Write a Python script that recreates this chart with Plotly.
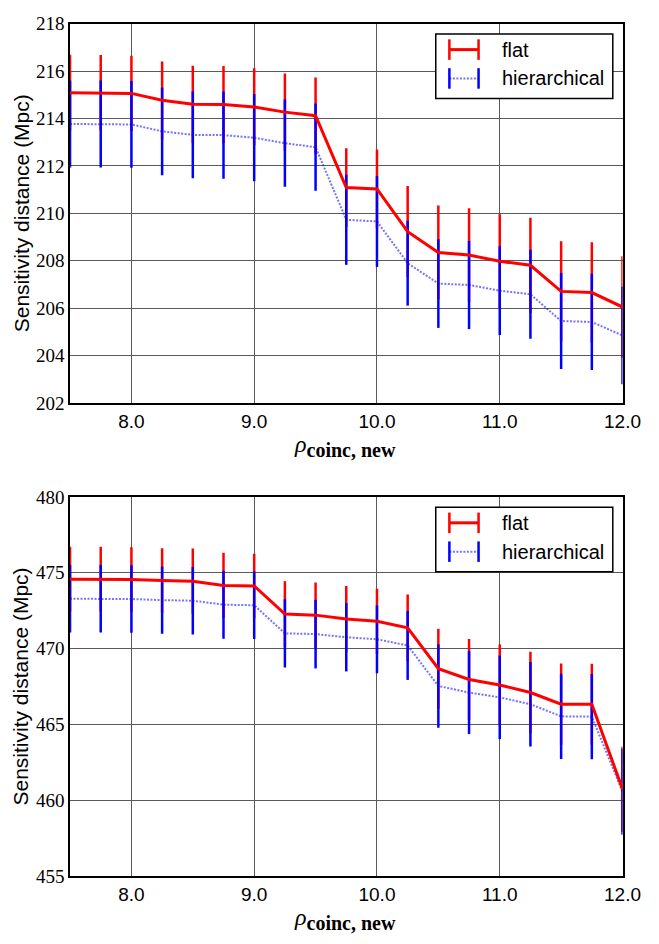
import plotly.graph_objects as go

W, H = 659, 944

# ---------------- data ----------------
rho = [7.5, 7.75, 8.0, 8.25, 8.5, 8.75, 9.0, 9.25, 9.5, 9.75,
       10.0, 10.25, 10.5, 10.75, 11.0, 11.25, 11.5, 11.75, 12.0]

top_flat = [215.09, 215.09, 215.06, 214.77, 214.60, 214.59, 214.49, 214.27, 214.12, 211.09,
            211.03, 209.23, 208.35, 208.24, 207.98, 207.81, 206.71, 206.66, 206.05]
top_flat_err = [1.60, 1.59, 1.59, 1.64, 1.63, 1.63, 1.63, 1.63, 1.61, 1.66,
                1.66, 1.92, 1.98, 1.98, 1.98, 2.01, 2.11, 2.12, 2.14]
top_hier = [213.77, 213.77, 213.75, 213.46, 213.31, 213.30, 213.19, 212.96, 212.79, 209.73,
            209.66, 207.90, 207.04, 206.98, 206.74, 206.59, 205.46, 205.42, 204.85]
top_hier_err = [1.83, 1.83, 1.83, 1.85, 1.83, 1.84, 1.84, 1.84, 1.84, 1.90,
                1.92, 1.79, 1.87, 1.86, 1.87, 1.88, 2.02, 2.03, 2.06]

bot_flat = [474.58, 474.58, 474.56, 474.49, 474.45, 474.17, 474.13, 472.28, 472.21, 471.95,
            471.80, 471.37, 468.68, 467.97, 467.61, 467.11, 466.34, 466.34, 460.74]
bot_flat_err = [2.13, 2.13, 2.13, 2.13, 2.15, 2.15, 2.13, 2.17, 2.15, 2.18,
                2.15, 2.20, 2.63, 2.67, 2.67, 2.69, 2.69, 2.67, 2.80]
bot_hier = [473.29, 473.29, 473.27, 473.20, 473.16, 472.90, 472.86, 471.01, 470.96, 470.75,
            470.62, 470.21, 467.54, 467.11, 466.79, 466.34, 465.54, 465.52, 460.57]
bot_hier_err = [2.22, 2.23, 2.22, 2.22, 2.23, 2.24, 2.23, 2.25, 2.26, 2.25,
                2.24, 2.27, 2.75, 2.74, 2.75, 2.78, 2.81, 2.81, 2.84]

x_ticks = [8.0, 9.0, 10.0, 11.0, 12.0]
top_yticks = [202, 204, 206, 208, 210, 212, 214, 216, 218]
bot_yticks = [455, 460, 465, 470, 475, 480]

RED = "#ff0000"
BLUE = "#0000ff"
BLUE_LINE = "rgba(0,0,255,0.55)"
SANS = "Liberation Sans"
SERIF = "Liberation Serif"

# pixel layout
PL, PR = 72, 640
panels = [(14, 402), (498, 886)]


def px(x):
    return x / W


def py(y):
    return 1 - y / H


fig = go.Figure()

datasets = [
    (top_flat, top_flat_err, top_hier, top_hier_err, "x", "y"),
    (bot_flat, bot_flat_err, bot_hier, bot_hier_err, "x2", "y2"),
]

for flat, ferr, hier, herr, xa, ya in datasets:
    # red error bars
    fig.add_trace(go.Scatter(
        x=rho, y=flat, mode="markers", xaxis=xa, yaxis=ya, showlegend=False,
        marker=dict(size=1, color="rgba(0,0,0,0)"),
        error_y=dict(type="data", array=ferr, visible=True, color=RED, thickness=2.5, width=0),
        hoverinfo="skip"))
    # blue error bars
    fig.add_trace(go.Scatter(
        x=rho, y=hier, mode="markers", xaxis=xa, yaxis=ya, showlegend=False,
        marker=dict(size=1, color="rgba(0,0,0,0)"),
        error_y=dict(type="data", array=herr, visible=True, color=BLUE, thickness=2.5, width=0),
        hoverinfo="skip"))
    # blue dotted line
    fig.add_trace(go.Scatter(
        x=rho, y=hier, mode="lines", xaxis=xa, yaxis=ya, name="hierarchical", showlegend=False,
        line=dict(color=BLUE_LINE, width=2, dash="2px,1.5px")))
    # red line
    fig.add_trace(go.Scatter(
        x=rho, y=flat, mode="lines", xaxis=xa, yaxis=ya, name="flat", showlegend=False,
        line=dict(color=RED, width=3)))

axis_common = dict(
    showgrid=True, gridcolor="#5a5a5a", gridwidth=1,
    showline=True, linecolor="black", linewidth=1.5, mirror=True,
    ticks="", zeroline=False,
)

xcommon = dict(axis_common, range=[7.5, 12.0], tickvals=x_ticks,
               ticktext=["%.1f" % v for v in x_ticks],
               tickfont=dict(family=SANS, size=19, color="black"),
               domain=[px(PL), px(PR)])

fig.update_layout(
    width=W, height=H,
    margin=dict(l=0, r=0, t=0, b=0),
    paper_bgcolor="white", plot_bgcolor="white",
    showlegend=False,
    xaxis=dict(xcommon, anchor="y"),
    yaxis=dict(axis_common, range=[202, 218], tickvals=top_yticks,
               ticktext=[str(v) for v in top_yticks],
               tickfont=dict(family=SERIF, size=19, color="black"),
               domain=[py(panels[0][1]), py(panels[0][0])], anchor="x"),
    xaxis2=dict(xcommon, anchor="y2"),
    yaxis2=dict(axis_common, range=[455, 480], tickvals=bot_yticks,
                ticktext=[str(v) for v in bot_yticks],
                tickfont=dict(family=SERIF, size=19, color="black"),
                domain=[py(panels[1][1]), py(panels[1][0])], anchor="x2"),
)

XTITLE = ("<i>ρ</i><sub><span style=\"font-family:'Liberation Serif',serif;"
          "font-size:20px;font-weight:bold\">coinc, new</span></sub>")

shapes = []
annotations = []
for top, bottom in panels:
    # axis titles
    annotations.append(dict(
        x=px(21.5), y=py((top + bottom) / 2), xref="paper", yref="paper",
        text="Sensitivity distance (Mpc)", textangle=-90, showarrow=False,
        font=dict(family=SANS, size=21, color="black"), xanchor="center", yanchor="middle"))
    annotations.append(dict(
        x=px(355), y=py(bottom + 44), xref="paper", yref="paper",
        text=XTITLE, showarrow=False,
        font=dict(family=SERIF, size=24, color="black"), xanchor="center", yanchor="middle"))
    # legend box
    shapes.append(dict(type="rect", xref="paper", yref="paper",
                       x0=px(448), x1=px(630), y0=py(top + 10.5), y1=py(top + 76.5),
                       line=dict(color="black", width=1.5), fillcolor="white", layer="above"))
    # flat icon
    yf = top + 26.5
    shapes.append(dict(type="line", xref="paper", yref="paper", x0=px(462), x1=px(492),
                       y0=py(yf), y1=py(yf), line=dict(color=RED, width=3), layer="above"))
    for xx in (462, 492):
        shapes.append(dict(type="line", xref="paper", yref="paper", x0=px(xx), x1=px(xx),
                           y0=py(yf - 10.5), y1=py(yf + 10.5), line=dict(color=RED, width=2.5),
                           layer="above"))
    annotations.append(dict(x=px(514), y=py(yf), xref="paper", yref="paper", text="flat",
                            showarrow=False, xanchor="left", yanchor="middle",
                            font=dict(family=SANS, size=20, color="black")))
    # hierarchical icon
    yh = top + 56
    shapes.append(dict(type="line", xref="paper", yref="paper", x0=px(462), x1=px(492),
                       y0=py(yh), y1=py(yh), line=dict(color=BLUE_LINE, width=2, dash="2px,1.5px"),
                       layer="above"))
    for xx in (462, 492):
        shapes.append(dict(type="line", xref="paper", yref="paper", x0=px(xx), x1=px(xx),
                           y0=py(yh - 10.5), y1=py(yh + 10.5), line=dict(color=BLUE, width=2.5),
                           layer="above"))
    annotations.append(dict(x=px(514), y=py(yh), xref="paper", yref="paper", text="hierarchical",
                            showarrow=False, xanchor="left", yanchor="middle",
                            font=dict(family=SANS, size=20, color="black")))

fig.update_layout(shapes=shapes, annotations=annotations)

fig.write_html("out.html")
